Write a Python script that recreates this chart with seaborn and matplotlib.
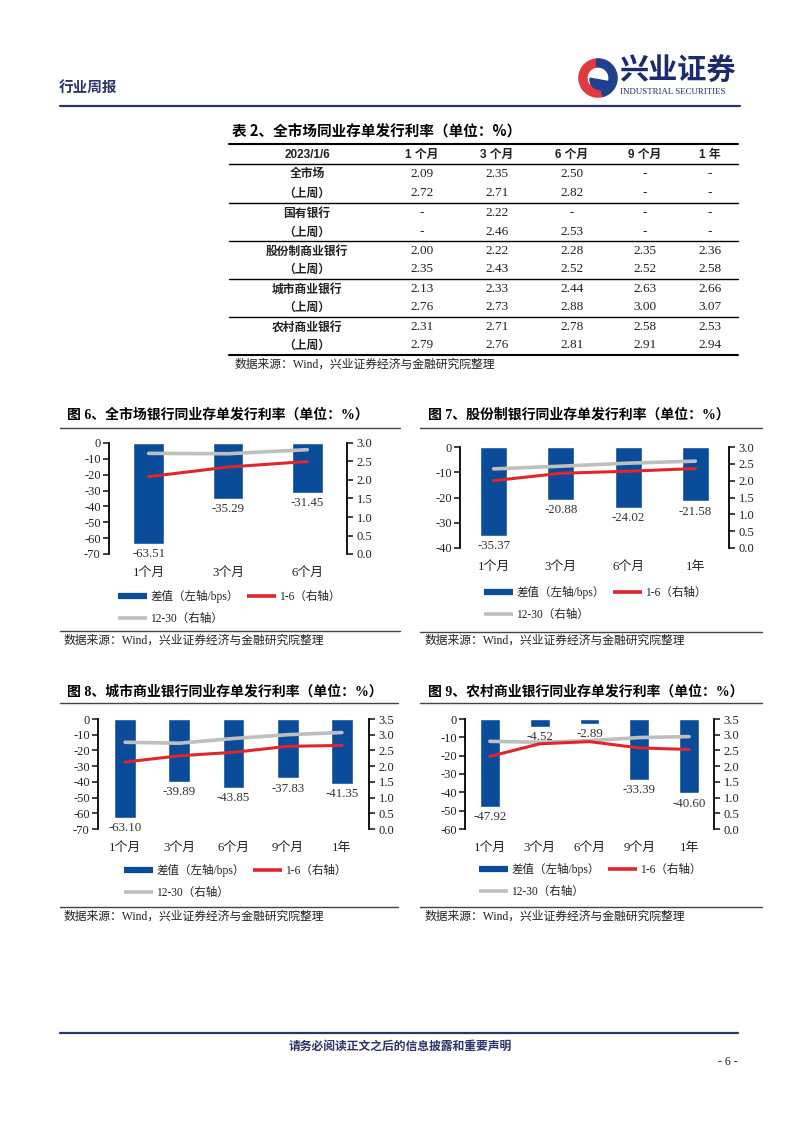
import matplotlib.pyplot as plt
import numpy as np
import pandas as pd
import seaborn as sns
from matplotlib.lines import Line2D
from matplotlib.patches import Wedge
from matplotlib.ticker import FormatStrFormatter

sns.set_theme(style="white")
plt.rcParams["font.family"] = ["Liberation Serif", "Noto Sans CJK SC"]
plt.rcParams["axes.unicode_minus"] = False

W, H = 802, 1133
NAVY = "#2b3270"
BAR_BLUE = "#0B4C9A"
RED = "#E0262B"
GRAY = "#BFBFBF"
TXT = "#222222"
CJK = ["Noto Sans CJK SC"]
SERIF_CJK = ["Liberation Serif", "Noto Sans CJK SC"]

# ---- table 2 data ----
table_date = "2023/1/6"
table_cols = ["1 个月", "3 个月", "6 个月", "9 个月", "1 年"]
table_rows = ["全市场", "（上周）", "国有银行", "（上周）", "股份制商业银行", "（上周）",
              "城市商业银行", "（上周）", "农村商业银行", "（上周）"]
table_vals = [
    [2.09, 2.35, 2.50, None, None],
    [2.72, 2.71, 2.82, None, None],
    [None, 2.22, None, None, None],
    [None, 2.46, 2.53, None, None],
    [2.00, 2.22, 2.28, 2.35, 2.36],
    [2.35, 2.43, 2.52, 2.52, 2.58],
    [2.13, 2.33, 2.44, 2.63, 2.66],
    [2.76, 2.73, 2.88, 3.00, 3.07],
    [2.31, 2.71, 2.78, 2.58, 2.53],
    [2.79, 2.76, 2.81, 2.91, 2.94],
]

# ---- chart data ----
tenor_3 = ["1个月", "3个月", "6个月"]
tenor_4 = ["1个月", "3个月", "6个月", "1年"]
tenor_5 = ["1个月", "3个月", "6个月", "9个月", "1年"]

all_diff = [-63.51, -35.29, -31.45]
all_r16 = [2.09, 2.35, 2.50]
all_r1230 = [2.72, 2.71, 2.82]

jsb_diff = [-35.37, -20.88, -24.02, -21.58]
jsb_r16 = [2.00, 2.22, 2.28, 2.36]
jsb_r1230 = [2.35, 2.43, 2.52, 2.58]

city_diff = [-63.10, -39.89, -43.85, -37.83, -41.35]
city_r16 = [2.13, 2.33, 2.44, 2.63, 2.66]
city_r1230 = [2.76, 2.73, 2.88, 3.00, 3.07]

rural_diff = [-47.92, -4.52, -2.89, -33.39, -40.60]
rural_r16 = [2.31, 2.71, 2.78, 2.58, 2.53]
rural_r1230 = [2.79, 2.76, 2.81, 2.91, 2.94]

legend_labels = ["差值（左轴/bps）", "12-30（右轴）", "1-6（右轴）"]
source_text = "数据来源：Wind，兴业证券经济与金融研究院整理"

fig = plt.figure(figsize=(W / 100, H / 100), dpi=100)


def fx(x):
    return x / W


def fy(y):
    return 1 - y / H


def hline(x0, x1, y, lw=1.0, color="black"):
    fig.add_artist(Line2D([fx(x0), fx(x1)], [fy(y), fy(y)],
                          transform=fig.transFigure, lw=lw, color=color))


def text(x, y, s, **kw):
    kw.setdefault("va", "center")
    kw.setdefault("color", TXT)
    fig.text(fx(x), fy(y), s, **kw)


# ---- page header ----
text(59, 87, "行业周报", fontsize=10.5, family=CJK, weight="bold", color=NAVY)
hline(60, 740, 106, lw=1.6, color=NAVY)

lax = fig.add_axes([fx(577), fy(100), 42 / W, 44 / H])
lax.set_xlim(-1.1, 1.1)
lax.set_ylim(-1.1, 1.1)
lax.set_aspect("equal")
lax.axis("off")
lax.add_patch(Wedge((0, 0), 1.0, 95, 285, width=0.42, color="#E03A3E"))
lax.add_patch(Wedge((0, 0), 1.0, -75, 95, width=0.42, color="#1F3F8F"))
lax.add_patch(Wedge((0.08, -0.1), 0.5, 170, 350, color="#1F3F8F"))
text(619, 71, "兴业证券", fontsize=21, family=CJK, weight="bold", color="#1c2b6e")
text(620, 92, "INDUSTRIAL SECURITIES", fontsize=6.4, family=["Liberation Serif"], color="#1c2b6e")

# ---- table 2 ----
col_x = [422, 497, 572, 645, 710]
text(232, 132, "表 2、全市场同业存单发行利率（单位：%）", fontsize=10.5, family=CJK, weight="bold", color="black")
hline(229, 738, 144, lw=1.5)
text(307, 155, table_date, ha="center", fontsize=8.5, family=["Liberation Sans"], weight="bold")
for cx, c in zip(col_x, table_cols):
    text(cx, 155, c, ha="center", fontsize=8.5, family=["Liberation Sans", "Noto Sans CJK SC"], weight="bold")
hline(229, 738, 164, lw=1.0)
row_y = [174, 193, 213, 232, 251, 269, 289, 307, 327, 345]
for ry, name, vals in zip(row_y, table_rows, table_vals):
    text(307, ry, name, ha="center", fontsize=8.5, family=CJK, weight="bold")
    for cx, v in zip(col_x, vals):
        s = "-" if v is None else f"{v:.2f}"
        text(cx, ry, s, ha="center", fontsize=9.5, family=["Liberation Serif"])
for ly in [203, 241, 279, 317]:
    hline(229, 738, ly, lw=1.0)
hline(229, 738, 355, lw=1.5)
text(235, 365, source_text, fontsize=8.5, family=SERIF_CJK)


# ---- charts ----
def draw_chart(box, cats, diff, r16, r1230, left_min, right_max, title, tx, ty,
               line_x0, line_x1, line_y, src_y, src_line_y, leg_x, leg_y, bar_w=0.4):
    l, t, r, b = box
    ax = fig.add_axes([fx(l), fy(b), (r - l) / W, (b - t) / H])
    df = pd.DataFrame({"tenor": cats, "diff": diff})
    sns.barplot(data=df, x="tenor", y="diff", color=BAR_BLUE, saturation=1,
                width=bar_w, ax=ax)
    ax.bar_label(ax.containers[0], fmt="%.2f", padding=3, fontsize=9.3,
                 color="#333333", family=["Liberation Serif"])
    ax.set_ylim(left_min, 0)
    ax.set_yticks(np.arange(left_min, 1, 10))
    ax.set_xlim(-0.5, len(cats) - 0.5)
    ax.set_xlabel("")
    ax.set_ylabel("")
    ax.tick_params(axis="y", left=True, direction="out", length=4, width=1.2,
                   labelsize=9, pad=2, colors=TXT)
    ax.tick_params(axis="x", bottom=False, labelsize=9.3, pad=3.5, colors=TXT)
    for side in ["top", "bottom", "right"]:
        ax.spines[side].set_visible(False)
    ax.spines["left"].set_color("black")
    ax.spines["left"].set_linewidth(1.3)

    ax2 = ax.twinx()
    pos = np.arange(len(cats))
    sns.lineplot(x=pos, y=r1230, color=GRAY, lw=2.6, ax=ax2)
    sns.lineplot(x=pos, y=r16, color=RED, lw=2.2, ax=ax2)
    ax2.set_ylim(0, right_max)
    ax2.set_yticks(np.arange(0, right_max + 0.01, 0.5))
    ax2.yaxis.set_major_formatter(FormatStrFormatter("%.1f"))
    ax2.set_ylabel("")
    ax2.tick_params(axis="y", right=True, direction="out", length=4, width=1.2,
                    labelsize=9, pad=3, colors=TXT)
    for side in ["top", "bottom", "left"]:
        ax2.spines[side].set_visible(False)
    ax2.spines["right"].set_color("black")
    ax2.spines["right"].set_linewidth(1.3)

    handles = [Line2D([], [], color=BAR_BLUE, lw=4.5, solid_capstyle="butt"),
               Line2D([], [], color=GRAY, lw=2.6, solid_capstyle="butt"),
               Line2D([], [], color=RED, lw=2.6, solid_capstyle="butt")]
    leg = fig.legend(handles, legend_labels, ncol=2, loc="upper left",
                     bbox_to_anchor=(fx(leg_x), fy(leg_y)), bbox_transform=fig.transFigure,
                     frameon=False, fontsize=8.3, handlelength=2.5, handletextpad=0.3,
                     columnspacing=0.7, labelspacing=0.85, borderpad=0, borderaxespad=0)
    for t_ in leg.get_texts():
        t_.set_color(TXT)

    text(tx, ty, title, fontsize=10, family=SERIF_CJK, weight="bold", color="black")
    hline(line_x0, line_x1, line_y, lw=1.0, color="#444444")
    hline(line_x0, line_x1, src_line_y, lw=1.0, color="#444444")
    text(tx - 3, src_y, source_text, fontsize=8.5, family=SERIF_CJK)


draw_chart((109, 443, 347, 554), tenor_3, all_diff, all_r16, all_r1230, -70, 3.0,
           "图 6、全市场银行同业存单发行利率（单位：%）", 67, 415,
           60, 400, 428, 641, 631, 118, 590, bar_w=0.39)
draw_chart((460, 447, 729, 548), tenor_4, jsb_diff, jsb_r16, jsb_r1230, -40, 3.0,
           "图 7、股份制银行同业存单发行利率（单位：%）", 428, 415,
           420, 762, 428, 641, 632, 484, 586)
draw_chart((98, 719, 369, 829), tenor_5, city_diff, city_r16, city_r1230, -70, 3.5,
           "图 8、城市商业银行同业存单发行利率（单位：%）", 67, 692,
           60, 398, 703, 917, 907, 124, 864)
draw_chart((465, 719, 714, 829), tenor_5, rural_diff, rural_r16, rural_r1230, -60, 3.5,
           "图 9、农村商业银行同业存单发行利率（单位：%）", 428, 692,
           420, 762, 703, 917, 907, 479, 863)

# ---- footer ----
hline(60, 738, 1033, lw=1.6, color=NAVY)
text(400, 1046, "请务必阅读正文之后的信息披露和重要声明", ha="center", fontsize=8.5,
     family=CJK, weight="bold", color=NAVY)
text(738, 1062, "- 6 -", ha="right", fontsize=8.5, family=["Liberation Serif"])

fig.savefig("out.png", dpi=100, facecolor="white")
